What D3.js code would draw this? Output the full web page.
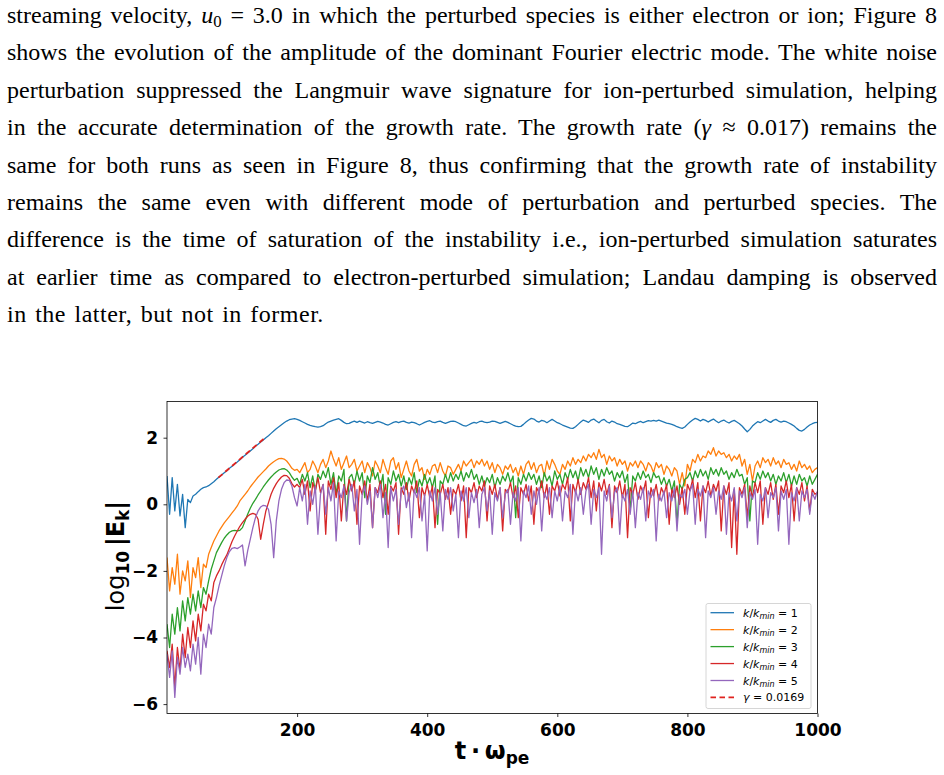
<!DOCTYPE html>
<html>
<head>
<meta charset="utf-8">
<script src="https://cdn.jsdelivr.net/npm/d3@7"></script>
<style>
  body { margin: 0; background: #fff; }
  #page { position: relative; width: 944px; height: 775px; overflow: hidden; }
  .line-text { position: absolute; left: 7px; font-family: 'Liberation Serif', serif; font-size: 24px; line-height: 24px; white-space: nowrap; color: #000; }
  .line-text sub { font-size: 0.7em; line-height: 0; vertical-align: -0.25em; }
  svg { position: absolute; left: 0; top: 0; }
</style>
</head>
<body>
<div id="page"><svg id="chart" width="944" height="775"></svg></div>
<script>

const paragraph = [
  'streaming velocity, <i>u</i><sub>0</sub> = 3.0 in which the perturbed species is either electron or ion; Figure 8',
  'shows the evolution of the amplitude of the dominant Fourier electric mode. The white noise',
  'perturbation suppressed the Langmuir wave signature for ion-perturbed simulation, helping',
  'in the accurate determination of the growth rate. The growth rate (<i>γ</i> ≈ 0.017) remains the',
  'same for both runs as seen in Figure 8, thus confirming that the growth rate of instability',
  'remains the same even with different mode of perturbation and perturbed species. The',
  'difference is the time of saturation of the instability i.e., ion-perturbed simulation saturates',
  'at earlier time as compared to electron-perturbed simulation; Landau damping is observed',
  'in the latter, but not in former.'
];

// sampled every tStep time units, starting at t = 0
const tStep = 4;

const k1 = [
  0.85, -0.3, 0.8, -0.2, 0.6, -0.35, 0.3, -0.7, 0.15, 0.05,
  0.25, 0.3, 0.38, 0.45, 0.5, 0.52, 0.56, 0.62, 0.68, 0.75,
  0.82, 0.88, 0.95, 1.01, 1.08, 1.14, 1.21, 1.27, 1.34, 1.41,
  1.47, 1.54, 1.6, 1.67, 1.74, 1.8, 1.87, 1.93, 2.0, 2.06,
  2.13, 2.2, 2.27, 2.33, 2.39, 2.45, 2.5, 2.54, 2.56, 2.57,
  2.55,
  2.52, 2.48, 2.44, 2.4, 2.37, 2.35, 2.33, 2.32, 2.33, 2.36,
  2.42, 2.47, 2.5, 2.53, 2.55, 2.57, 2.52, 2.46, 2.42, 2.43,
  2.47, 2.5, 2.46, 2.5, 2.47, 2.44, 2.48, 2.45, 2.43, 2.46,
  2.49, 2.47, 2.44, 2.4, 2.38, 2.42, 2.46, 2.48, 2.45, 2.48,
  2.5, 2.46, 2.44, 2.47, 2.45, 2.42, 2.38, 2.42, 2.46, 2.49,
  2.51, 2.47, 2.45, 2.48, 2.5, 2.46, 2.43, 2.46, 2.49, 2.5,
  2.48, 2.44, 2.4, 2.36, 2.35, 2.39, 2.43, 2.46, 2.44, 2.48,
  2.5, 2.47, 2.45, 2.47, 2.5, 2.49, 2.46, 2.43, 2.46, 2.49,
  2.46, 2.42, 2.38, 2.35, 2.33, 2.34, 2.4, 2.47, 2.53, 2.58,
  2.56, 2.5, 2.47, 2.52, 2.5, 2.45, 2.5, 2.55, 2.5, 2.45,
  2.42, 2.38, 2.35, 2.32, 2.29, 2.28, 2.33, 2.4, 2.47, 2.53,
  2.5, 2.46, 2.53, 2.56, 2.5, 2.45, 2.52, 2.55, 2.48, 2.44,
  2.5, 2.47, 2.42, 2.4, 2.37, 2.34, 2.33, 2.38, 2.44, 2.42,
  2.46, 2.49, 2.45, 2.48, 2.51, 2.5, 2.52, 2.5, 2.53, 2.5,
  2.47, 2.44, 2.42, 2.4, 2.37, 2.33, 2.3, 2.28, 2.32, 2.4,
  2.47, 2.53, 2.58, 2.55, 2.5, 2.55, 2.52, 2.47, 2.52, 2.56,
  2.5, 2.45, 2.5, 2.53, 2.48, 2.44, 2.49, 2.52, 2.47, 2.42,
  2.35, 2.26, 2.18, 2.25, 2.35, 2.42, 2.48, 2.45, 2.5, 2.55,
  2.5, 2.46, 2.52, 2.55, 2.5, 2.47, 2.5, 2.48, 2.44, 2.4,
  2.35, 2.28, 2.22, 2.2, 2.25, 2.32, 2.38, 2.42, 2.45, 2.46
];

const k2 = [
  -1.6, -2.6, -1.9, -2.4, -1.5, -2.7, -2.0, -2.3, -1.7, -2.8,
  -1.9, -2.2, -1.6, -2.5, -1.8, -1.9, -1.5, -1.3, -1.1, -0.95,
  -0.8, -0.68, -0.56, -0.46, -0.36, -0.26, -0.16, -0.05, 0.1, 0.2,
  0.3, 0.4, 0.52, 0.62, 0.72, 0.82, 0.9, 0.98, 1.06, 1.15,
  1.22, 1.28, 1.33, 1.37, 1.38, 1.36, 1.3, 1.2, 1.08, 1.02,
  1.05,
  0.95, 1.1, 1.25, 0.95, 1.05, 1.3, 1.15, 0.95, 1.2, 1.35,
  1.1, 1.3, 1.6, 1.35, 1.15, 1.4, 1.05, 1.25, 1.45, 1.1,
  1.2, 1.35, 1.0, 1.15, 1.3, 0.95, 1.25, 1.1, 0.85, 1.3,
  1.15, 0.95, 1.35, 1.1, 0.9, 1.3, 1.4, 1.05, 1.25, 0.8,
  1.05, 1.3, 1.0, 0.85, 1.2, 1.35, 1.0, 1.1, 0.75, 1.05,
  0.9, 1.15, 1.2, 0.95, 1.25, 1.0, 0.85, 1.15, 1.1, 0.9,
  1.05, 1.2, 1.0, 1.3, 1.15, 1.25, 1.35, 1.1, 1.3, 1.2,
  1.35, 1.15, 1.3, 1.05, 1.25, 0.95, 1.2, 1.1, 0.9, 1.15,
  1.05, 1.2, 0.95, 1.1, 0.85, 1.15, 0.9, 1.2, 1.3, 1.05,
  1.25, 0.95, 1.15, 1.2, 0.85, 1.3, 1.05, 1.35, 1.2, 1.0,
  0.9, 1.2, 1.05, 1.3, 1.15, 1.4, 1.2, 1.35, 1.25, 1.45,
  1.3, 1.5, 1.4, 1.55, 1.35, 1.65, 1.4, 1.5, 1.2, 1.45,
  1.3, 1.4, 1.15, 1.35, 1.2, 1.3, 1.0, 1.25, 1.15, 1.3,
  1.1, 1.3, 1.2, 1.0, 1.25, 1.15, 0.95, 1.25, 1.1, 1.2,
  0.9, 1.15, 1.05, 0.85, 1.1, 1.0, 0.6, 0.95, 0.55, 1.2,
  1.0, 1.35, 1.25, 1.5, 1.3, 1.45, 1.4, 1.6, 1.5, 1.7,
  1.45, 1.6, 1.5, 1.55, 1.4, 1.5, 1.3, 1.45, 1.35, 1.5,
  1.15, 1.35, 0.9, 1.2, 0.7, 1.15, 1.3, 1.1, 1.4, 1.25,
  1.35, 1.15, 1.4, 1.2, 1.3, 1.1, 1.35, 1.2, 1.25, 1.05,
  1.2, 1.0, 1.3, 1.1, 1.2, 1.05, 1.15, 0.95, 1.05, 1.1
];

const k3 = [
  -3.6, -4.3, -3.3, -3.9, -3.1, -3.8, -2.9, -3.5, -2.8, -3.3,
  -2.7, -3.2, -2.6, -3.1, -2.5, -2.7, -2.3, -1.95, -1.7, -1.45,
  -1.3, -1.15, -1.02, -0.92, -0.84, -0.8, -0.78, -0.8, -0.78, -0.7,
  -0.5, -0.3, -0.12, 0.03, 0.15, 0.28, 0.4, 0.52, 0.63, 0.73,
  0.82, 0.9, 0.97, 1.03, 1.06, 1.07, 1.03, 0.95, 0.82, 0.72,
  0.78,
  0.6, 0.9, 0.7, 0.95, 0.5, 0.85, 0.4, 0.9, 0.75, 1.0,
  0.8, 1.1, 0.6, 0.95, 0.3, 0.85, 0.7, 1.05, -0.5, 0.8,
  0.9, 0.6, 1.0, 0.7, 0.95, 0.2, 0.85, 0.65, 1.1, 0.75,
  0.95, 0.5, 0.9, -0.3, 0.8, 0.6, 1.0, 0.7, 0.9, 0.55,
  0.85, 0.45, 0.8, 0.6, 0.95, 0.35, 0.75, 0.55, 0.9, 0.6,
  0.8, 0.5, 0.85, -0.6, 0.7, 0.6, 0.9, 0.65, 0.95, 0.7,
  0.9, 0.75, 1.0, 0.7, 0.95, 0.8, 1.05, 0.75, 0.9, 0.6,
  0.85, 0.55, 0.8, 0.65, 0.9, 0.5, 0.8, 0.6, 0.85, 0.7,
  0.95, 0.65, 0.85, -0.4, 0.8, 0.6, 0.9, 0.7, 0.95, 0.75,
  0.9, 0.6, 0.85, 0.5, 0.95, 0.7, 0.85, 0.55, 1.0, 0.75,
  0.9, 0.6, 0.95, 0.75, 1.05, 0.8, 1.0, 0.7, 1.1, 0.85,
  1.05, 0.8, 1.15, 0.9, 1.1, 0.75, 1.05, 0.85, 1.1, 0.9,
  1.0, 0.7, 0.95, 0.8, 1.0, 0.65, 0.9, -0.2, 0.85, 0.7,
  0.95, 0.75, 1.0, 0.8, 0.9, 0.65, 0.95, 0.8, 0.85, 0.6,
  0.8, 0.55, 0.75, 0.4, 0.7, -0.6, 0.6, 0.45, 0.75, 0.8,
  0.95, 0.7, 1.0, 0.8, 1.05, 0.85, 1.0, 0.75, 1.1, 0.9,
  1.05, 0.85, 1.1, 0.9, 1.0, 0.75, 0.95, 0.8, 1.05, 0.85,
  0.9, 0.6, 0.8, -0.5, 0.7, 0.65, 0.95, 0.75, 1.0, 0.8,
  0.95, 0.7, 0.9, 0.6, 0.85, 0.7, 0.95, 0.65, 0.9, 0.55,
  0.85, 0.6, 0.9, 0.7, 0.8, 0.55, 0.85, 0.6, 0.75, 0.9
];

const k4 = [
  -4.4, -4.9, -4.2, -5.5, -4.3, -5.0, -3.9, -4.6, -3.7, -4.3,
  -3.5, -4.1, -3.3, -3.8, -3.0, -3.2, -2.7, -2.9, -2.35, -2.15,
  -2.0, -1.82, -1.66, -1.52, -1.32, -1.12, -0.95, -0.8, -0.66, -0.55,
  -0.45, -0.36, -0.3, -0.27, -0.3, -0.45, -1.05, -0.6, -0.2, 0.05,
  0.3, 0.48, 0.62, 0.73, 0.82, 0.87, 0.86, 0.78, 0.62, 0.52,
  0.6,
  0.5, 0.75, 0.3, 0.7, -0.2, 0.65, 0.4, 0.8, 0.35, 0.6,
  -0.9, 0.7, 0.45, 0.8, 0.2, 0.65, -0.5, 0.6, 0.3, 0.75,
  0.4, 0.7, -0.6, 0.55, 0.3, 0.7, 0.1, 0.6, -0.7, 0.5,
  0.35, 0.7, 0.2, 0.6, -0.3, 0.55, 0.4, 0.65, -0.9, 0.5,
  0.3, 0.65, 0.1, 0.55, 0.35, 0.7, -0.4, 0.5, 0.25, 0.6,
  0.2, 0.55, -0.7, 0.45, 0.3, 0.6, 0.15, 0.5, -0.3, 0.45,
  0.3, 0.6, 0.1, 0.55, -1.0, 0.5, 0.35, 0.65, 0.2, 0.55,
  0.4, 0.7, -0.5, 0.55, 0.3, 0.6, 0.15, 0.5, -0.8, 0.45,
  0.35, 0.65, 0.2, 0.55, -0.4, 0.5, 0.3, 0.6, 0.1, 0.55,
  -0.6, 0.5, 0.35, 0.7, 0.2, 0.6, -0.3, 0.55, 0.4, 0.7,
  0.25, 0.6, 0.45, 0.8, -0.5, 0.6, 0.35, 0.75, 0.3, 0.65,
  0.45, 0.8, 0.2, 0.7, -0.2, 0.65, 0.4, 0.75, 0.3, 0.6,
  -0.7, 0.55, 0.35, 0.7, 0.2, 0.6, -1.0, 0.5, 0.3, 0.65,
  0.15, 0.55, 0.35, 0.7, -0.4, 0.5, 0.25, 0.6, 0.1, 0.5,
  0.3, 0.6, -0.6, 0.45, 0.2, 0.55, 0.0, 0.5, -0.3, 0.6,
  0.4, 0.75, 0.2, 0.65, -0.5, 0.55, 0.35, 0.7, 0.25, 0.6,
  0.4, 0.7, -0.8, 0.55, 0.3, 0.65, -1.3, 0.45, -1.5, 0.5,
  0.3, 0.6, -0.4, 0.55, 0.2, 0.65, 0.35, 0.7, -0.6, 0.5,
  0.3, 0.65, 0.15, 0.6, -0.3, 0.55, 0.35, 0.7, 0.2, 0.6,
  -0.5, 0.5, 0.3, 0.65, 0.1, 0.55, -0.2, 0.45, 0.3, 0.35
];

const k5 = [
  -4.5, -5.2, -4.4, -5.8, -4.6, -5.1, -4.3, -4.9, -4.5, -5.0,
  -4.2, -4.8, -4.0, -5.1, -3.9, -4.3, -3.6, -3.9, -3.1, -2.8,
  -2.45, -2.15, -1.85, -1.6, -1.42, -1.32, -1.3, -1.33, -1.28, -1.22,
  -1.85, -1.4, -1.05, -0.7, -0.4, -0.2, -0.08, -0.03, -0.05, -0.15,
  -0.6, -1.6, -0.5, 0.1, 0.45, 0.65, 0.73, 0.72, 0.55, 0.2,
  -0.05,
  0.5, 0.1, 0.6, -0.6, 0.4, 0.0, 0.55, -0.9, 0.3, 0.6,
  -0.3, 0.5, 0.1, 0.65, -1.1, 0.4, 0.2, 0.55, -0.5, 0.35,
  0.6, -0.2, 0.45, -1.2, 0.3, 0.55, 0.0, 0.4, -0.7, 0.5,
  0.2, 0.6, -0.4, 0.35, -1.3, 0.5, 0.1, 0.45, -0.6, 0.4,
  0.55, -0.1, 0.35, -1.0, 0.45, 0.2, 0.5, -0.5, 0.3, -1.4,
  0.4, 0.1, 0.5, -0.3, 0.35, -0.8, 0.45, 0.15, 0.5, -0.2,
  0.3, -1.0, 0.4, 0.1, 0.5, -0.4, 0.35, 0.05, 0.45, -0.7,
  0.3, 0.5, -0.2, 0.4, -0.9, 0.35, 0.1, 0.5, -0.4, 0.3,
  0.45, -0.6, 0.35, 0.1, 0.5, -1.1, 0.4, 0.2, 0.55, -0.3,
  0.4, 0.0, 0.5, -0.8, 0.35, 0.15, 0.5, -0.4, 0.4, 0.1,
  0.55, -0.5, 0.4, 0.2, 0.6, -0.9, 0.45, 0.1, 0.5, -0.3,
  0.4, 0.6, -0.6, 0.45, 0.2, 0.5, -1.5, 0.4, 0.1, 0.55,
  -0.4, 0.35, 0.5, -0.9, 0.3, 0.1, 0.45, -0.3, 0.4, -0.7,
  0.35, 0.15, 0.5, -0.5, 0.4, 0.2, 0.45, -1.1, 0.3, 0.1,
  0.4, -0.4, 0.35, 0.1, 0.5, -0.8, 0.3, 0.2, 0.45, -0.3,
  0.4, 0.6, -0.6, 0.45, 0.25, 0.55, -1.0, 0.4, 0.2, 0.5,
  -0.3, 0.4, 0.15, 0.55, -0.9, 0.35, 0.1, 0.5, -0.5, 0.4,
  0.2, 0.5, -0.7, 0.35, 0.15, 0.45, -1.2, 0.3, 0.1, 0.5,
  -0.4, 0.35, 0.2, 0.5, -0.8, 0.4, 0.15, 0.45, -1.2, 0.35,
  0.1, 0.5, -0.5, 0.4, 0.2, 0.45, -0.3, 0.35, 0.15, 0.4
];

// growth-rate fit, [t, log10|E|]
const fitLine = [[79, 0.8], [149, 1.97]];
const gammaLabel = '0.0169';

const modeNumbers = ['1', '2', '3', '4', '5'];
const colors = ['#1f77b4', '#ff7f0e', '#2ca02c', '#d62728', '#9467bd'];
const xTicks = [200, 400, 600, 800, 1000];
const yTicks = [-6, -4, -2, 0, 2];


// paragraph above the figure, justified line by line
const baseline0 = 23;
const lineGap = 37.4;
const textWidth = 930;

d3.select('#page').selectAll('div.line-text')
  .data(paragraph)
  .enter()
  .insert('div', 'svg')
  .attr('class', 'line-text')
  .style('top', (d, i) => (baseline0 + i * lineGap - 20) + 'px')
  .html(d => d)
  .each(function (d, i) {
    if (i === paragraph.length - 1) {
      // last line keeps its natural (slightly looser) spacing
      d3.select(this).style('letter-spacing', '0.5px').style('word-spacing', '2px');
      return;
    }
    const w = this.getBoundingClientRect().width;
    const spaces = (this.textContent.match(/ /g) || []).length;
    d3.select(this).style('word-spacing', ((textWidth - w) / spaces) + 'px');
  });


const svg = d3.select('#chart');

const plot = { left: 167, right: 817.5, top: 401.5, bottom: 713.5 };

const xScale = d3.scaleLinear()
  .domain([0, 1000])
  .range([plot.left, plot.right]);

const yScale = d3.scaleLinear()
  .domain([-6.282, 3.087])
  .range([plot.bottom, plot.top]);

svg.append('clipPath')
  .attr('id', 'clip')
  .append('rect')
  .attr('x', plot.left)
  .attr('y', plot.top)
  .attr('width', plot.right - plot.left)
  .attr('height', plot.bottom - plot.top);

const line = d3.line()
  .x((d, i) => xScale(i * tStep))
  .y(d => yScale(d));

const series = [k1, k2, k3, k4, k5];

svg.append('g')
  .attr('clip-path', 'url(#clip)')
  .selectAll('path')
  .data(series)
  .enter()
  .append('path')
  .attr('d', d => line(d))
  .attr('fill', 'none')
  .attr('stroke', (d, i) => colors[i])
  .attr('stroke-width', 1.3)
  .attr('stroke-linejoin', 'round');

svg.append('path')
  .attr('d', d3.line().x(d => xScale(d[0])).y(d => yScale(d[1]))(fitLine))
  .attr('fill', 'none')
  .attr('stroke', '#e0231f')
  .attr('stroke-width', 1.8)
  .attr('stroke-dasharray', '5.5,3.5');

// axes
const xAxis = d3.axisBottom(xScale)
  .tickValues(xTicks)
  .tickFormat(d3.format('d'))
  .tickSize(3.5)
  .tickPadding(7);

const yAxis = d3.axisLeft(yScale)
  .tickValues(yTicks)
  .tickFormat(d3.format('d'))
  .tickSize(3.5)
  .tickPadding(5.5);

const gx = svg.append('g')
  .attr('transform', 'translate(0,' + plot.bottom + ')')
  .call(xAxis);

const gy = svg.append('g')
  .attr('transform', 'translate(' + plot.left + ',0)')
  .call(yAxis);

[gx, gy].forEach(g => {
  g.select('.domain').remove();
  g.selectAll('line').attr('stroke', '#000').attr('stroke-width', 0.8);
  g.selectAll('text')
    .attr('fill', '#000')
    .style('font-family', "'DejaVu Sans', sans-serif")
    .style('font-size', '17px')
    .style('font-weight', 'bold');
});

svg.append('rect')
  .attr('x', plot.left)
  .attr('y', plot.top)
  .attr('width', plot.right - plot.left)
  .attr('height', plot.bottom - plot.top)
  .attr('fill', 'none')
  .attr('stroke', '#000')
  .attr('stroke-width', 0.8);

// axis labels
const xLabel = svg.append('text')
  .attr('x', 492)
  .attr('y', 759)
  .attr('text-anchor', 'middle')
  .style('font-family', "'DejaVu Sans', sans-serif")
  .style('font-size', '24px')
  .style('font-weight', 'bold');
xLabel.append('tspan').text('t\u2009·\u2009ω');
xLabel.append('tspan').attr('dy', 5).style('font-size', '17px').text('pe');

const yLabel = svg.append('text')
  .attr('transform', 'translate(124,556) rotate(-90)')
  .attr('text-anchor', 'middle')
  .style('font-family', "'DejaVu Sans', sans-serif")
  .style('font-size', '24px');
yLabel.append('tspan').text('log');
yLabel.append('tspan').attr('dy', 5).style('font-size', '17px').style('font-weight', 'bold').text('10');
yLabel.append('tspan').attr('dy', -5).style('font-weight', 'bold').text('\u2009|E');
yLabel.append('tspan').attr('dy', 5).style('font-size', '17px').style('font-weight', 'bold').text('k');
yLabel.append('tspan').attr('dy', -5).style('font-weight', 'bold').text('|');

// legend
const legend = svg.append('g')
  .style('font-family', "'DejaVu Sans', sans-serif")
  .style('font-size', '11px');

legend.append('rect')
  .attr('x', 706)
  .attr('y', 603.5)
  .attr('width', 105)
  .attr('height', 105)
  .attr('rx', 2)
  .attr('fill', '#fff')
  .attr('fill-opacity', 0.8)
  .attr('stroke', '#cccccc')
  .attr('stroke-width', 0.8);

const entryY = i => 612.7 + i * 16.95;

const entries = legend.selectAll('g.entry')
  .data(modeNumbers)
  .enter()
  .append('g')
  .attr('class', 'entry');

entries.append('line')
  .attr('x1', 710.5)
  .attr('x2', 734)
  .attr('y1', (d, i) => entryY(i))
  .attr('y2', (d, i) => entryY(i))
  .attr('stroke', (d, i) => colors[i])
  .attr('stroke-width', 1.3);

const entryText = entries.append('text')
  .attr('x', 743)
  .attr('y', (d, i) => entryY(i) + 4);
entryText.append('tspan').style('font-style', 'italic').text('k');
entryText.append('tspan').text('/');
entryText.append('tspan').style('font-style', 'italic').text('k');
entryText.append('tspan').attr('dy', 2).style('font-style', 'italic').style('font-size', '8px').text('min');
entryText.append('tspan').attr('dy', -2).text(d => ' = ' + d);

const fitY = entryY(modeNumbers.length);
legend.append('line')
  .attr('x1', 710.5)
  .attr('x2', 734)
  .attr('y1', fitY)
  .attr('y2', fitY)
  .attr('stroke', '#e0231f')
  .attr('stroke-width', 1.8)
  .attr('stroke-dasharray', '5.5,3.5');

const fitText = legend.append('text')
  .attr('x', 743)
  .attr('y', fitY + 4);
fitText.append('tspan').style('font-style', 'italic').text('γ');
fitText.append('tspan').text(' = ' + gammaLabel);

</script>
</body>
</html>
